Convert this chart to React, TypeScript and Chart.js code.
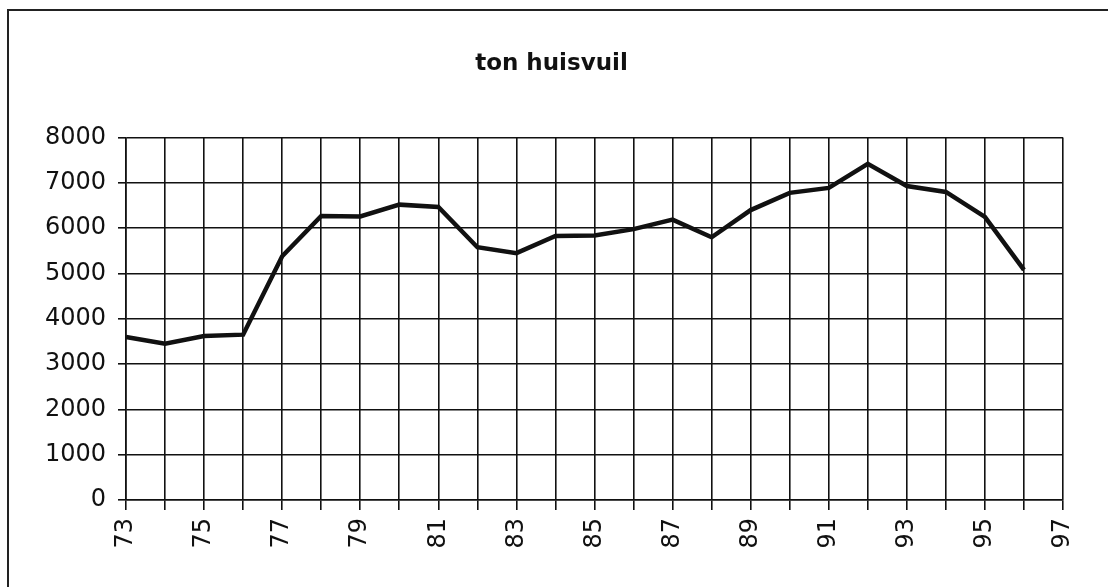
import React, { useEffect, useRef } from "react";
import { Chart, registerables } from "chart.js";

Chart.register(...registerables);

const years: string[] = [
  "73", "74", "75", "76", "77", "78", "79", "80", "81", "82", "83", "84",
  "85", "86", "87", "88", "89", "90", "91", "92", "93", "94", "95", "96", "97",
];
const tonHuisvuil: (number | null)[] = [
  3600, 3450, 3620, 3650, 5380, 6270, 6260, 6520, 6470, 5580, 5450, 5830,
  5840, 5980, 6190, 5800, 6400, 6780, 6890, 7420, 6930, 6800, 6250, 5080, null,
];
const shownYearLabels: string[] = ["73", "75", "77", "79", "81", "83", "85", "87", "89", "91", "93", "95", "97"];
const chartTitle = "ton huisvuil";

export default function App() {
  const ref = useRef<HTMLCanvasElement | null>(null);

  useEffect(() => {
    if (!ref.current) return;
    const chart = new Chart(ref.current, {
      type: "line",
      data: {
        labels: years,
        datasets: [
          {
            label: chartTitle,
            data: tonHuisvuil,
            borderColor: "#111",
            borderWidth: 4.5,
            pointRadius: 0,
            tension: 0,
            fill: false,
          },
        ],
      },
      options: {
        animation: false,
        responsive: false,
        maintainAspectRatio: false,
        layout: { padding: { left: 40, right: 45, top: 0, bottom: 0 } },
        plugins: {
          legend: { display: false },
          tooltip: { enabled: false },
          title: {
            display: true,
            text: chartTitle,
            color: "#111",
            font: { family: "DejaVu Sans", size: 23, weight: "bold" },
            padding: { top: 50, bottom: 60 },
          },
        },
        scales: {
          x: {
            type: "category",
            offset: false,
            afterFit: (s: any) => {
              s.height = 87;
            },
            grid: {
              display: true,
              color: "#111",
              lineWidth: 1.6,
              tickLength: 10,
              drawTicks: true,
            },
            border: { display: true, color: "#111", width: 1.6 },
            ticks: {
              autoSkip: false,
              maxRotation: 90,
              minRotation: 90,
              padding: 8,
              color: "#111",
              font: { family: "DejaVu Sans", size: 24 },
              callback: function (this: any, value: any) {
                const lab = years[value as number];
                return shownYearLabels.includes(lab) ? lab : "";
              },
            },
          },
          y: {
            min: 0,
            max: 8000,
            afterFit: (s: any) => {
              s.width = 86;
            },
            grid: {
              color: "#111",
              lineWidth: 1.6,
              tickLength: 8,
            },
            border: { display: true, color: "#111", width: 1.6 },
            ticks: {
              stepSize: 1000,
              padding: 12,
              color: "#111",
              font: { family: "DejaVu Sans", size: 24 },
              callback: (value: any) => String(value),
            },
          },
        },
      },
    });
    return () => chart.destroy();
  }, []);

  return (
    <div style={{ position: "fixed", left: 0, top: 0, width: 1108, height: 587, background: "#fff" }}>
      <canvas ref={ref} width={1108} height={587} style={{ position: "absolute", left: 0, top: 0 }} />
      <div
        style={{
          position: "absolute",
          left: 7,
          top: 9,
          width: 1101,
          height: 578,
          borderTop: "2px solid #222",
          borderLeft: "2px solid #222",
          pointerEvents: "none",
          boxSizing: "border-box",
        }}
      />
    </div>
  );
}
